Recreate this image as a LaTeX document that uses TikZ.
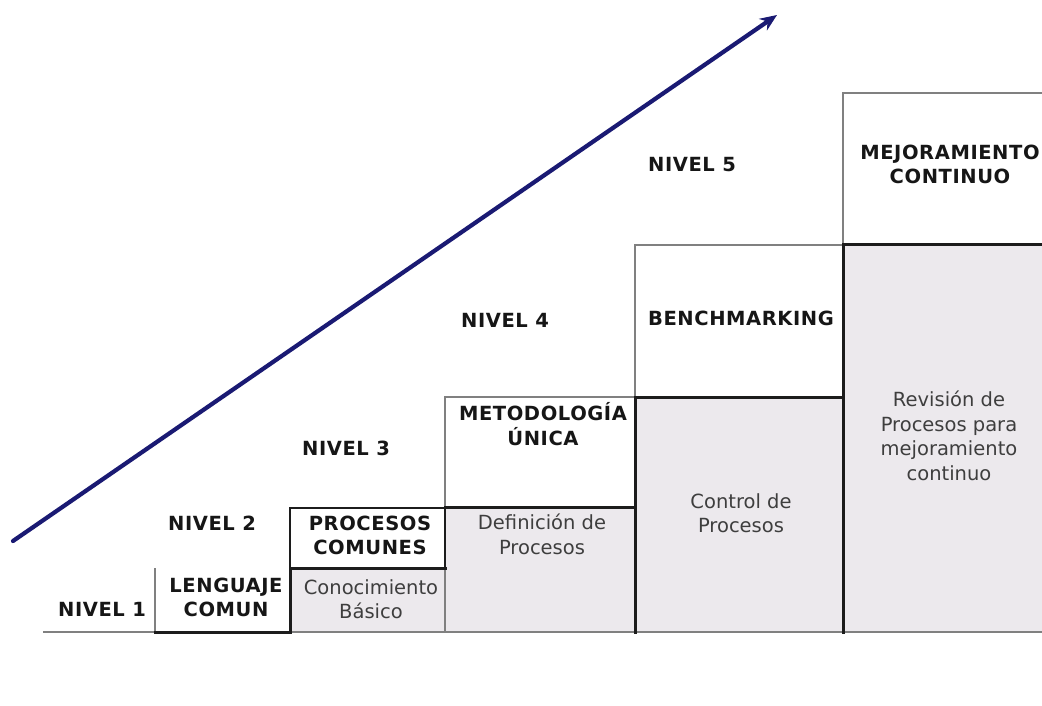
\documentclass[tikz,border=0pt]{standalone}
\usepackage{fontspec}
\setmainfont{DejaVu Sans}[BoldFeatures={LetterSpace=3}]
\usetikzlibrary{arrows.meta}
\definecolor{navy}{RGB}{26,26,115}
\definecolor{stepfill}{RGB}{236,233,237}
\definecolor{thinline}{RGB}{128,128,128}
\definecolor{thickline}{RGB}{28,28,28}
\definecolor{boldtxt}{RGB}{22,22,22}
\definecolor{softtxt}{RGB}{62,62,62}
\tikzset{
  thinedge/.style={draw=thinline, line width=1.4pt},
  midedge/.style={draw=thickline, line width=1.6pt},
  thickedge/.style={draw=thickline, line width=3pt, line cap=rect},
  title/.style={font=\fontsize{19.5}{24.5}\selectfont\bfseries, text=boldtxt, align=center, inner sep=0pt},
  body/.style={font=\fontsize{19.5}{24.5}\selectfont, text=softtxt, align=center, inner sep=0pt},
  level/.style={title},
  growth/.style={draw=navy, line width=4.2pt, line cap=round, -{Stealth[length=17pt,width=14pt]}},
}
\begin{document}
\begin{tikzpicture}[x=1pt,y=-1pt]
\useasboundingbox (0,0) rectangle (1042,706);
\fill[white] (0,0) rectangle (1042,706);
\clip (0,0) rectangle (1042,706);

% grey fills of the steps
\fill[stepfill] (290,568) rectangle (445,632);
\fill[stepfill] (445,507) rectangle (635,632);
\fill[stepfill] (635,397) rectangle (843,632);
\fill[stepfill] (843,244) rectangle (1062,632);

% thin outlines
\draw[thinedge] (43,632) -- (1062,632);
\draw[thinedge] (155,568) -- (155,632);
\draw[thinedge] (445,632) -- (445,397) -- (635,397);
\draw[thinedge] (635,397) -- (635,245) -- (843,245);
\draw[thinedge] (843,244) -- (843,93) -- (1062,93);
\draw[midedge] (290,568) -- (290,508) -- (445,508) -- (445,568);

% thick staircase
\draw[thickedge] (155,632) -- (290,632) -- (290,568) -- (445,568);
\draw[thickedge] (445,507) -- (635,507);
\draw[thickedge] (635,632) -- (635,397) -- (843,397);
\draw[thickedge] (843,632) -- (843,244) -- (1062,244);

% arrow
\coordinate (arrowstart) at (13,541);
\coordinate (arrowend) at (777,15);
\draw[growth] (arrowstart) -- (arrowend);

% level labels
\node[level] (n1) at (102,609) {NIVEL 1};
\node[level] (n2) at (212,523) {NIVEL 2};
\node[level] (n3) at (346,448) {NIVEL 3};
\node[level] (n4) at (505,320) {NIVEL 4};
\node[level] (n5) at (692,165) {NIVEL 5};

% step titles
\node[title] (t1) at (226,597.5) {LENGUAJE\\COMUN};
\node[title] (t2) at (370,535.5) {PROCESOS\\COMUNES};
\node[title] (t3) at (543,424) {METODOLOGÍA\\ÚNICA};
\node[title] (t4) at (741,318) {BENCHMARKING};
\node[title] (t5) at (950,164.5) {MEJORAMIENTO\\CONTINUO};

% step contents
\node[body] (b1) at (371,599) {Conocimiento\\Básico};
\node[body] (b2) at (542,534.5) {Definición de\\Procesos};
\node[body] (b3) at (741,513) {Control de\\Procesos};
\node[body] (b4) at (949,436) {Revisión de\\Procesos para\\mejoramiento\\continuo};
\end{tikzpicture}
\end{document}
